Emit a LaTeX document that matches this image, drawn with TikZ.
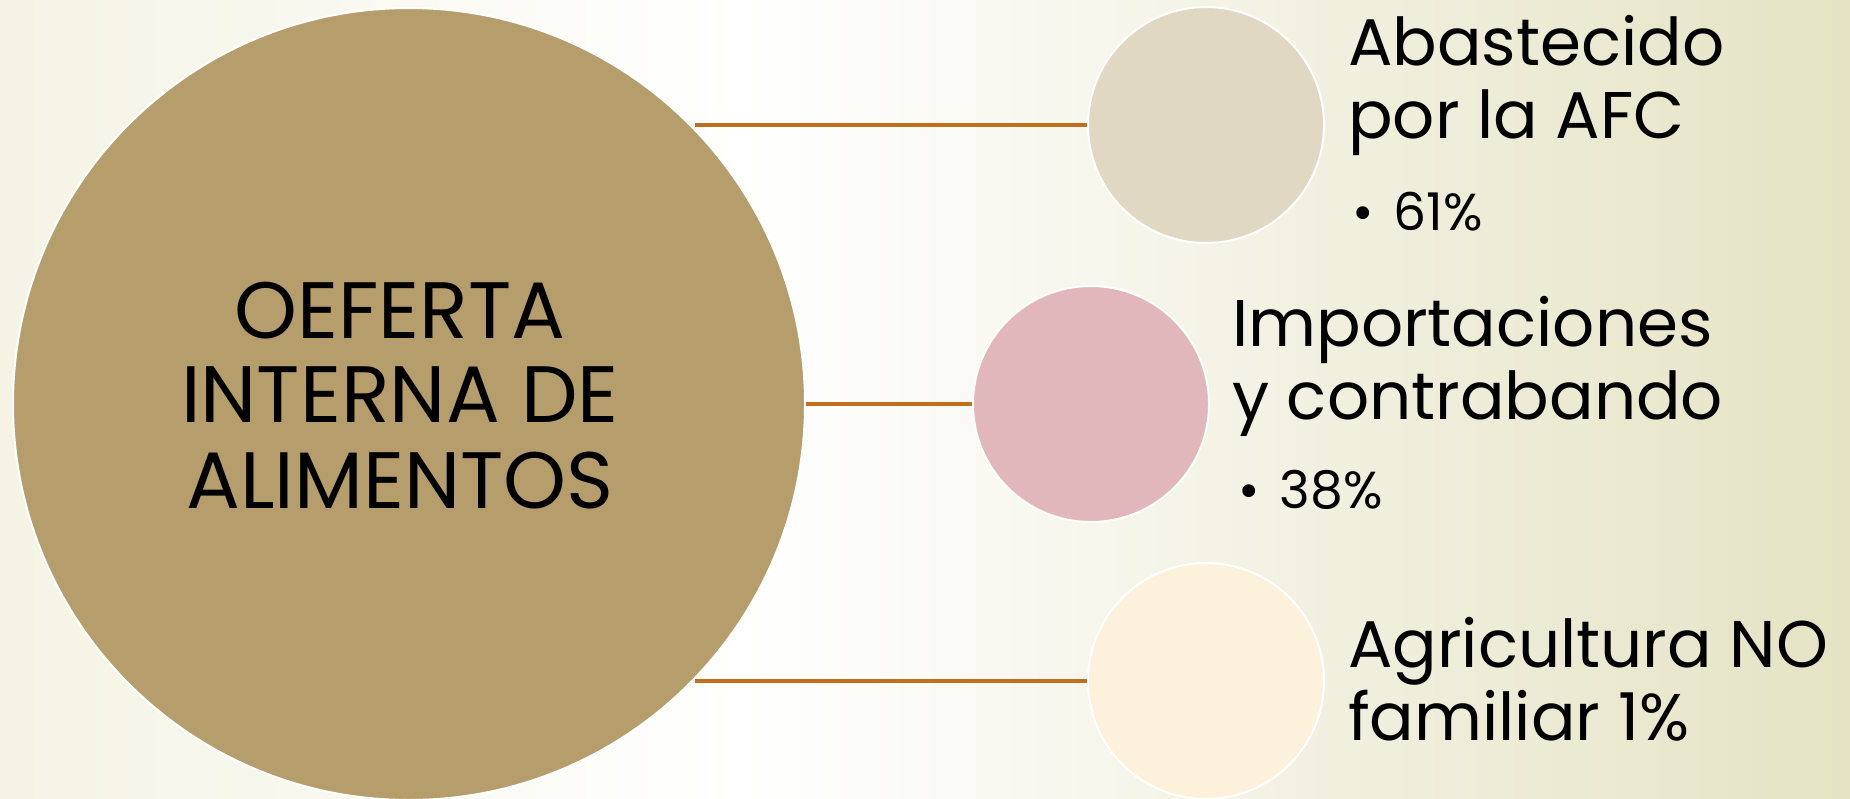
\documentclass[tikz,border=0pt]{standalone}
\usepackage{fontspec}
\setmainfont{Poppins}
\definecolor{burlap}{RGB}{182,158,108}
\definecolor{linen}{RGB}{224,216,195}
\definecolor{rosepaper}{RGB}{225,183,187}
\definecolor{creampaper}{RGB}{252,242,220}
\definecolor{connector}{RGB}{192,112,28}
\definecolor{bgleft}{RGB}{244,243,228}
\definecolor{bgright}{RGB}{229,227,196}
\pgfdeclarehorizontalshading{bgshade}{100bp}{color(0bp)=(bgleft); color(25bp)=(bgleft); color(45bp)=(white); color(75bp)=(bgright); color(100bp)=(bgright)}
\tikzset{
  bubble/.style={circle, draw=white, line width=2pt, inner sep=0pt},
  link/.style={draw=connector, line width=4pt},
  maintext/.style={font=\fontsize{80}{85}\selectfont, anchor=base, inner sep=0pt},
  headtext/.style={font=\fontsize{66}{73}\selectfont, anchor=base west, inner sep=0pt},
  bullettext/.style={font=\fontsize{52}{60}\selectfont, anchor=base west, inner sep=0pt},
}
\begin{document}
\begin{tikzpicture}[x=1pt,y=-1pt]
  \useasboundingbox (0,0) rectangle (1850,798);
  \clip (0,0) rectangle (1850,798);
  \shade[shading=bgshade] (0,0) rectangle (1850,798);

  % circles
  \node[bubble, fill=burlap, minimum size=792pt] (big) at (409,404) {};
  \node[bubble, fill=linen, minimum size=236pt] (afc) at (1206,125) {};
  \node[bubble, fill=rosepaper, minimum size=236pt] (imp) at (1091,404) {};
  \node[bubble, fill=creampaper, minimum size=236pt] (nofam) at (1206,681) {};

  % connectors
  \draw[link] (afc.west -| big.44.8) -- (afc.west);
  \draw[link] (imp.west -| big.east) -- (imp.west);
  \draw[link] (nofam.west -| big.-44.2) -- (nofam.west);

  % central text
  \node[maintext] (m1) at (400,338) {OEFERTA};
  \node[maintext] (m2) at (400,422) {INTERNA DE};
  \node[maintext] (m3) at (400,508) {ALIMENTOS};

  % labels
  \node[headtext] (h1a) at (1348,65) {Abastecido};
  \node[headtext] (h1b) at (1348,138) {por la AFC};
  \node[bullettext] (b1) at (1352,230) {•\hspace{20pt}61\%};

  \node[headtext] (h2a) at (1232,346) {Importaciones};
  \node[headtext] (h2b) at (1232,419) {y contrabando};
  \node[bullettext] (b2) at (1238,508) {•\hspace{20pt}38\%};

  \node[headtext] (h3a) at (1348,667) {Agricultura NO};
  \node[headtext] (h3b) at (1348,740) {familiar 1\%};
\end{tikzpicture}
\end{document}
